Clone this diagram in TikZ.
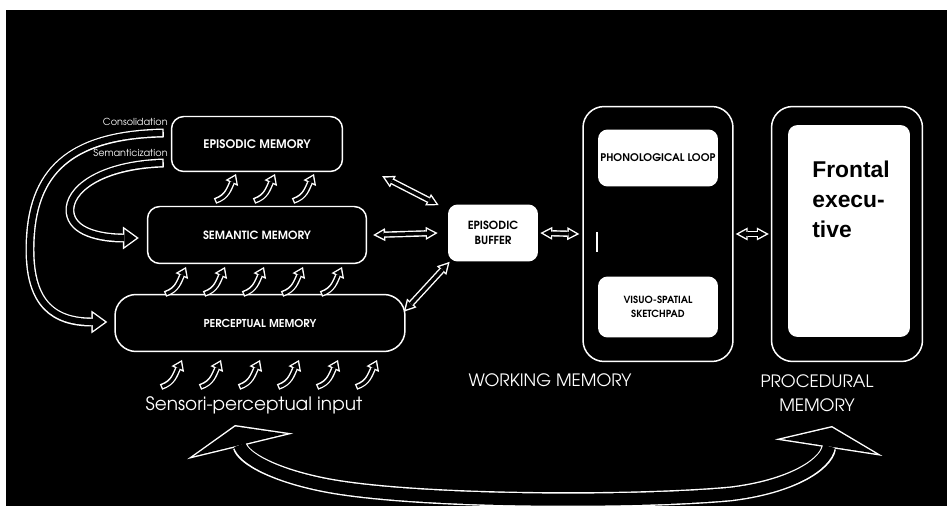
\documentclass[tikz,border=0pt]{standalone}
\usepackage{fontspec}
\usepackage{tikz}
\usetikzlibrary{arrows.meta,calc}
\newfontfamily\gothic{TeX Gyre Adventor}
\newfontfamily\arialfont{Liberation Sans}

\tikzset{
	membox/.style={draw=white, line width=0.85pt, rounded corners=7pt, text=white, inner sep=0pt, font=\gothic\bfseries\fontsize{6.7}{8}\selectfont},
	wbox/.style={fill=white, rounded corners=5.5pt, text=black, align=center, inner sep=0pt, font=\gothic\bfseries\fontsize{6.4}{8.6}\selectfont},
	bigbox/.style={draw=white, line width=0.85pt, rounded corners=12pt, inner sep=0pt},
	lbl/.style={text=white, align=center, inner sep=0pt, font=\gothic\fontsize{9.7}{13.5}\selectfont},
	note/.style={text=white, inner sep=0pt, font=\gothic\fontsize{5.5}{6.5}\selectfont},
	upar/.style={preaction={draw=white, line width=3.4pt, shorten <=0pt, shorten >=0pt, -{Triangle[length=5.7pt, width=7.9pt, line width=0pt]}}, draw=black, line width=1.8pt, shorten <=0.8pt, shorten >=1.4pt, -{Triangle[length=3.5pt, width=4.9pt, line width=0pt]}},
	dblar/.style={preaction={draw=white, line width=3.6pt, shorten <=0pt, shorten >=0pt, {Triangle[length=6.8pt, width=7.4pt, line width=0pt]}-{Triangle[length=6.8pt, width=7.4pt, line width=0pt]}}, draw=black, line width=2pt, shorten <=1.7pt, shorten >=1.7pt, {Triangle[length=4.3pt, width=4.7pt, line width=0pt]}-{Triangle[length=4.3pt, width=4.7pt, line width=0pt]}},
	curvar/.style={preaction={draw=white, line width=5.1pt, shorten <=0pt, shorten >=0pt, -{Triangle[length=9pt, width=13pt, line width=0pt]}}, draw=black, line width=3.5pt, shorten <=0.8pt, shorten >=1.4pt, -{Triangle[length=6.8pt, width=9.9pt, line width=0pt]}},
	loopar/.style={preaction={draw=white, line width=8.5pt, shorten <=0pt, shorten >=0pt, {Triangle[length=12.5pt, width=62pt, line width=0pt]}-{Triangle[length=12.5pt, width=62pt, line width=0pt]}}, draw=black, line width=6.9pt, shorten <=0.9pt, shorten >=0.9pt, {Triangle[length=10.8pt, width=53.8pt, line width=0pt]}-{Triangle[length=10.8pt, width=53.8pt, line width=0pt]}},
}

\begin{document}
\begin{tikzpicture}[x=0.02cm, y=-0.02cm]
	\useasboundingbox (0, 0) rectangle (947, 506);
	\fill[white] (0, 0) rectangle (947, 506);
	\fill[black] (6, 10) rectangle (947, 506);

	\node[membox, minimum width=3.42cm, minimum height=1.1cm] at (257, 144) (epi) {EPISODIC MEMORY};
	\node[membox, minimum width=4.38cm, minimum height=1.14cm, font=\gothic\bfseries\fontsize{6.45}{8}\selectfont] at (257, 235) (sem) {SEMANTIC MEMORY};
	\node[membox, rounded corners=12pt, minimum width=5.8cm, minimum height=1.14cm, font=\gothic\bfseries\fontsize{6.2}{8}\selectfont] at (260, 323) (per) {PERCEPTUAL MEMORY};

	\node[wbox, minimum width=1.8cm, minimum height=1.14cm] at (493, 233) (buf) {EPISODIC\\BUFFER};

	\node[bigbox, minimum width=3cm, minimum height=5.1cm] at (658, 234) (wm) {};
	\node[wbox, minimum width=2.4cm, minimum height=1.14cm, font=\gothic\bfseries\fontsize{6}{8}\selectfont] at (658, 158) (phon) {PHONOLOGICAL LOOP};
	\node[wbox, minimum width=2.4cm, minimum height=1.22cm, font=\gothic\bfseries\fontsize{5.6}{8}\selectfont] at (658, 307) (vis) {VISUO-SPATIAL\\SKETCHPAD};
	\draw[white, line width=0.6pt] (597, 232) -- (597, 252);

	\node[bigbox, minimum width=3.02cm, minimum height=5.1cm] at (847, 234) (proc) {};
	\node[wbox, minimum width=2.44cm, minimum height=4.24cm] at (849, 231) (front) {};
	\node[anchor=north west, inner sep=0pt, align=left, font=\arialfont\bfseries\fontsize{13}{17}\selectfont] at (812, 161) (fexec) {Frontal\\execu-\\tive};

	\node[lbl] at (550, 380) (wmlab) {WORKING MEMORY};
	\node[lbl] at (817, 393) (proclab) {PROCEDURAL\\MEMORY};
	\node[lbl, font=\gothic\fontsize{10.5}{12}\selectfont] at (254, 405) (input) {Sensori-perceptual input};
	\node[note, anchor=east] at (168, 122) (cons) {Consolidation};
	\node[note, anchor=east] at (168, 153) (seman) {Semanticization};

	\draw[dblar] ($(epi.south east)+(39, 4)$) -- ($(buf.north west)+(-9, 1)$);
	\draw[dblar] ($(sem.east)+(6, 0)$) -- ($(buf.west)+(-10, 0)$);
	\draw[dblar] ($(per.north east)+(-2, 18)$) -- ($(buf.south west)+(2, 0)$);
	\draw[dblar] ($(buf.east)+(2, 0)$) -- ($(wm.west)+(-3, 0)$);
	\draw[dblar] ($(wm.east)+(2, 0)$) -- ($(proc.west)+(-2, 0)$);

	\draw[curvar] ($(epi.west)+(-7, -11)$) .. controls (60, 135) and (30, 180) .. (30, 250) .. controls (30, 305) and (55, 322) .. ($(per.west)+(-7, -1)$);
	\draw[curvar] ($(epi.west)+(-7, 19)$) .. controls (100, 165) and (68, 190) .. (70, 212) .. controls (72, 232) and (100, 238) .. ($(sem.west)+(-8, 3)$);

	\foreach \i in {0, 1, 2}
		\draw[upar, shift={(215+39*\i, 201)}] (0, 0) .. controls (12, -4) and (14, -12) .. (21, -27);
	\foreach \i in {0, ..., 4}
		\draw[upar, shift={(165+39*\i, 294)}] (0, 0) .. controls (12, -4) and (14, -12) .. (21, -27);
	\foreach \i in {0, ..., 5}
		\draw[upar, shift={(161+39*\i, 387)}] (0, 0) .. controls (12, -4) and (14, -12) .. (21, -27);

	\coordinate (lefttip) at (235, 425);
	\coordinate (righttip) at (832, 426);
	\draw[loopar] (lefttip) .. controls (243, 458) and (275, 476) .. (330, 486) .. controls (420, 502) and (630, 503) .. (730, 494) .. controls (790, 487) and (826, 465) .. (righttip);
\end{tikzpicture}
\end{document}
